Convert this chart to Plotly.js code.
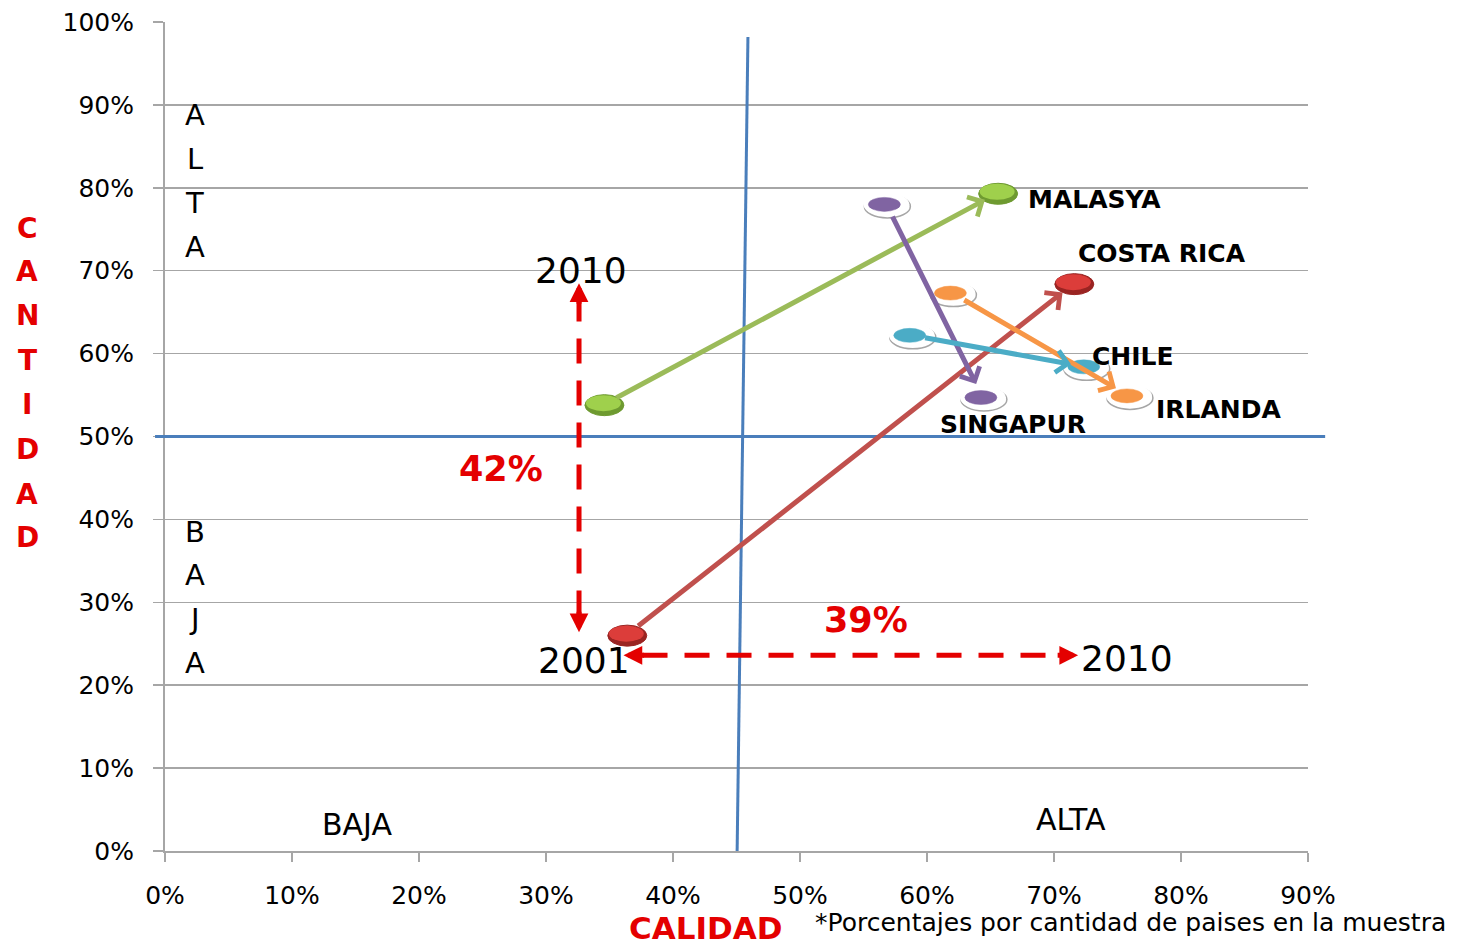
<!DOCTYPE html>
<html>
<head>
<meta charset="utf-8">
<script src="https://cdn.plot.ly/plotly-3.0.1.min.js"></script>
<style>html,body{margin:0;padding:0;background:#fff;}#chart{width:1472px;height:945px;}</style>
</head>
<body>
<div id="chart"></div>
<script>
// ---- data (fractions of 1 = 100%) ----
const countries   = ['MALASYA', 'COSTA RICA', 'SINGAPUR', 'IRLANDA', 'CHILE'];
const calidad2001 = [0.346, 0.364, 0.568, 0.620, 0.588];
const cantidad2001= [0.539, 0.261, 0.780, 0.673, 0.622];
const calidad2010 = [0.656, 0.716, 0.644, 0.759, 0.725];
const cantidad2010= [0.794, 0.685, 0.547, 0.549, 0.584];
const colors      = ['#9bbb59', '#c0504d', '#8064a2', '#f79646', '#4bacc6'];
const markerStyle = ['solid', 'solid', 'ring', 'ring', 'ring'];
const labelPos    = [[0.732, 0.786], [0.785, 0.721], [0.668, 0.515], [0.830, 0.532], [0.762, 0.597]];

const xTicks = [0, 0.1, 0.2, 0.3, 0.4, 0.5, 0.6, 0.7, 0.8, 0.9];
const yTicks = [0, 0.1, 0.2, 0.3, 0.4, 0.5, 0.6, 0.7, 0.8, 0.9, 1.0];

// quadrant divider lines
const vDivider = {xTop: 0.459, yTop: 0.982, xBottom: 0.4505, yBottom: 0};
const hDivider = 0.5;

// change arrows (red dashed)
const cantidadChange = {x: 0.326, from: 0.264, to: 0.685, label: '42%'};
const calidadChange  = {y: 0.236, from: 0.361, to: 0.719, label: '39%'};

// ---- build ----
const traces = countries.map((c, i) => ({
  type: 'scatter', mode: 'markers', name: c,
  x: [calidad2001[i], calidad2010[i]], y: [cantidad2001[i], cantidad2010[i]],
  marker: {size: 1, opacity: 0}, hoverinfo: 'name+x+y', showlegend: false
}));

const shapes = [];
shapes.push({type: 'line', xref: 'x', yref: 'y', x0: vDivider.xBottom, y0: vDivider.yBottom, x1: vDivider.xTop, y1: vDivider.yTop,
  line: {color: '#4a7ebb', width: 3}});
shapes.push({type: 'line', xref: 'paper', yref: 'y', x0: -0.0087, x1: 1.015, y0: hDivider, y1: hDivider,
  line: {color: '#4a7ebb', width: 3}});
const RED = 'rgb(228,0,0)';
shapes.push({type: 'line', xref: 'x', yref: 'y', x0: cantidadChange.x, x1: cantidadChange.x,
  y0: cantidadChange.from + 0.02, y1: cantidadChange.to - 0.02, line: {color: RED, width: 5, dash: '25px,17px'}});
shapes.push({type: 'line', xref: 'x', yref: 'y', y0: calidadChange.y, y1: calidadChange.y,
  x0: calidadChange.from + 0.015, x1: calidadChange.to - 0.015, line: {color: RED, width: 5, dash: '25px,17px'}});

function ellipse(x, y, w, h, fill, lineCol, lw, dx, dy) {
  dx = dx || 0; dy = dy || 0;
  return {type: 'circle', xref: 'x', yref: 'y', xsizemode: 'pixel', ysizemode: 'pixel',
    xanchor: x, yanchor: y, x0: -w / 2 + dx, x1: w / 2 + dx, y0: -h / 2 + dy, y1: h / 2 + dy,
    fillcolor: fill, line: {color: lineCol, width: lw}};
}
const solidFill = {'#9bbb59': ['#9fd04c', '#6e9a30'], '#c0504d': ['#dc3d3a', '#9a2422']};

const annotations = [];
countries.forEach((c, i) => {
  annotations.push({x: calidad2010[i], y: cantidad2010[i], ax: calidad2001[i], ay: cantidad2001[i],
    xref: 'x', yref: 'y', axref: 'x', ayref: 'y', text: '', showarrow: true,
    arrowhead: 4, arrowsize: 0.85, arrowwidth: 5, arrowcolor: colors[i], standoff: 15, startstandoff: 12});
  annotations.push({x: labelPos[i][0], y: labelPos[i][1], xref: 'x', yref: 'y', text: '<b>' + c + '</b>',
    xanchor: 'center', yanchor: 'middle',
    showarrow: false, font: {family: 'DejaVu Sans', size: 25, color: '#000'}});
  [[calidad2001[i], cantidad2001[i]], [calidad2010[i], cantidad2010[i]]].forEach(p => {
    if (markerStyle[i] === 'ring') {
      shapes.push(ellipse(p[0], p[1], 46, 23, '#ffffff', 'rgba(0,0,0,0.35)', 1.5, 1, -2));
      shapes.push(ellipse(p[0], p[1], 46, 23, '#ffffff', '#ffffff', 0, 0, 0));
      shapes.push(ellipse(p[0], p[1], 32, 14, colors[i], colors[i], 0.5, -2, 0));
    } else {
      const f = solidFill[colors[i]];
      shapes.push(ellipse(p[0], p[1], 39, 21, f[1], f[1], 1, 0, -1));
      shapes.push(ellipse(p[0], p[1], 35, 16, f[0], f[0], 0, -1, 1));
    }
  });
});

function redHead(x, y, ax, ay) {
  annotations.push({x: x, y: y, xref: 'x', yref: 'y', ax: ax, ay: ay, text: '', showarrow: true,
    arrowhead: 2, arrowsize: 0.75, arrowwidth: 5, arrowcolor: RED, standoff: 0});
}
redHead(cantidadChange.x, cantidadChange.to, 0, 22);
redHead(cantidadChange.x, cantidadChange.from, 0, -22);
redHead(calidadChange.from, calidadChange.y, 22, 0);
redHead(calidadChange.to, calidadChange.y, -22, 0);

function txt(x, y, t, size, color, bold, ref) {
  annotations.push({x: x, y: y, xref: ref || 'x', yref: ref || 'y', text: bold ? '<b>' + t + '</b>' : t,
    xanchor: 'center', yanchor: 'middle',
    showarrow: false, font: {family: 'DejaVu Sans', size: size, color: color}});
}
txt(0.2646, 0.4608, cantidadChange.label, 35, RED, true);
txt(0.552, 0.2786, calidadChange.label, 35, RED, true);
txt(0.3276, 0.7008, '2010', 36, '#000');
txt(0.3299, 0.2304, '2001', 36, '#000');
txt(0.7575, 0.2328, '2010', 36, '#000');
txt(0.1512, 0.0314, 'BAJA', 30, '#000');
txt(0.7134, 0.0386, 'ALTA', 30, '#000');

const altaLetters = ['A', 'L', 'T', 'A'];
const altaY = [0.8878, 0.8347, 0.7817, 0.7286];
altaLetters.forEach((l, k) => txt(0.0236, altaY[k], l, 29, '#000'));
const bajaLetters = ['B', 'A', 'J', 'A'];
const bajaY = [0.3848, 0.3329, 0.2799, 0.2268];
bajaLetters.forEach((l, k) => txt(0.0236, bajaY[k], l, 29, '#000'));
const cantLetters = ['C', 'A', 'N', 'T', 'I', 'D', 'A', 'D'];
const cantY = [0.7515, 0.6996, 0.6454, 0.5911, 0.5380, 0.4849, 0.4306, 0.3776];
cantLetters.forEach((l, k) => txt(-0.1207, cantY[k], l, 28, RED, true, 'paper'));

txt(0.4733, -0.0925, 'CALIDAD', 31, RED, true, 'paper');
txt(0.845, -0.0866, '*Porcentajes por cantidad de paises en la muestra', 25, '#000', false, 'paper');

const layout = {
  width: 1472, height: 945,
  margin: {l: 165, r: 164, t: 22, b: 94},
  paper_bgcolor: '#fff', plot_bgcolor: '#fff',
  showlegend: false,
  font: {family: 'DejaVu Sans', size: 24, color: '#000'},
  xaxis: {range: [0, 0.9], tickvals: xTicks, tickformat: '.0%', showgrid: false, zeroline: false,
    showline: true, linecolor: '#a6a6a6', linewidth: 2, ticks: 'outside', ticklen: 9, tickwidth: 2, tickcolor: '#a6a6a6',
    ticklabelstandoff: 12, tickfont: {family: 'DejaVu Sans', size: 25, color: '#000'}, fixedrange: true},
  yaxis: {range: [0, 1.0], tickvals: yTicks, tickformat: '.0%', showgrid: true, gridcolor: '#a6a6a6', gridwidth: 1.5,
    zeroline: false, showline: true, linecolor: '#a6a6a6', linewidth: 2, ticks: 'outside', ticklen: 10, tickwidth: 1.5,
    tickcolor: '#a6a6a6', ticklabelstandoff: 14, tickfont: {family: 'DejaVu Sans', size: 25, color: '#000'}, fixedrange: true},
  shapes: shapes,
  annotations: annotations
};

Plotly.newPlot('chart', traces, layout, {displayModeBar: false, staticPlot: true});
</script>
</body>
</html>
